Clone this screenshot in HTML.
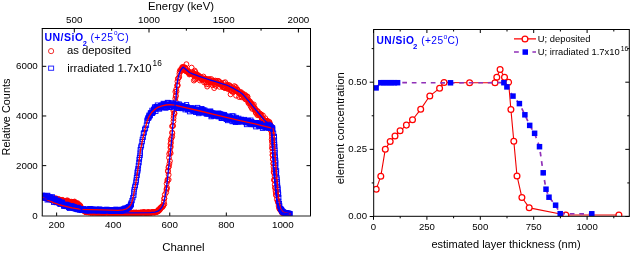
<!DOCTYPE html><html><head><meta charset="utf-8"><style>html,body{margin:0;padding:0;background:#fff;}body{width:630px;height:253px;overflow:hidden;}svg{display:block;will-change:transform;}</style></head><body><svg width="630" height="253" viewBox="0 0 630 253"><rect width="630" height="253" fill="#fff"/><path d="M74.30,28.5v4 M149.00,28.5v4 M223.70,28.5v4 M298.40,28.5v4 M111.65,28.5v2.2 M186.35,28.5v2.2 M261.05,28.5v2.2 M56.64,216.0v-3.5 M113.20,216.0v-3.5 M169.76,216.0v-3.5 M226.32,216.0v-3.5 M282.88,216.0v-3.5 M42.25,165.64h4 M310.5,165.64h-4 M42.25,115.98h4 M310.5,115.98h-4 M42.25,66.32h4 M310.5,66.32h-4" stroke="#000" stroke-width="1" fill="none"/><clipPath id="cl"><rect x="42.25" y="28.5" width="268.25" height="187.5"/></clipPath><g clip-path="url(#cl)"><g fill="none" stroke="#ff0000" stroke-width="0.95"><circle cx="42.66" cy="197.26" r="2.45"/><circle cx="42.63" cy="197.30" r="2.45"/><circle cx="43.37" cy="197.78" r="2.45"/><circle cx="43.79" cy="196.78" r="2.45"/><circle cx="44.13" cy="197.50" r="2.45"/><circle cx="44.57" cy="197.31" r="2.45"/><circle cx="44.82" cy="196.80" r="2.45"/><circle cx="45.37" cy="197.05" r="2.45"/><circle cx="45.58" cy="197.49" r="2.45"/><circle cx="45.98" cy="196.94" r="2.45"/><circle cx="46.37" cy="197.58" r="2.45"/><circle cx="47.02" cy="198.57" r="2.45"/><circle cx="46.84" cy="196.01" r="2.45"/><circle cx="47.52" cy="197.62" r="2.45"/><circle cx="48.04" cy="197.95" r="2.45"/><circle cx="48.18" cy="199.41" r="2.45"/><circle cx="49.21" cy="197.69" r="2.45"/><circle cx="49.33" cy="198.51" r="2.45"/><circle cx="49.27" cy="197.75" r="2.45"/><circle cx="50.02" cy="198.32" r="2.45"/><circle cx="50.26" cy="197.40" r="2.45"/><circle cx="50.61" cy="198.31" r="2.45"/><circle cx="51.22" cy="198.37" r="2.45"/><circle cx="51.50" cy="198.55" r="2.45"/><circle cx="52.18" cy="199.02" r="2.45"/><circle cx="52.24" cy="198.91" r="2.45"/><circle cx="52.70" cy="199.28" r="2.45"/><circle cx="52.99" cy="199.46" r="2.45"/><circle cx="53.60" cy="199.56" r="2.45"/><circle cx="53.94" cy="198.13" r="2.45"/><circle cx="54.45" cy="199.12" r="2.45"/><circle cx="54.58" cy="198.49" r="2.45"/><circle cx="55.11" cy="199.40" r="2.45"/><circle cx="55.75" cy="199.51" r="2.45"/><circle cx="56.05" cy="198.29" r="2.45"/><circle cx="56.34" cy="200.36" r="2.45"/><circle cx="56.95" cy="199.05" r="2.45"/><circle cx="57.38" cy="199.87" r="2.45"/><circle cx="57.30" cy="199.54" r="2.45"/><circle cx="57.91" cy="199.79" r="2.45"/><circle cx="58.44" cy="200.48" r="2.45"/><circle cx="58.56" cy="198.94" r="2.45"/><circle cx="59.34" cy="200.72" r="2.45"/><circle cx="59.60" cy="199.78" r="2.45"/><circle cx="60.09" cy="200.60" r="2.45"/><circle cx="60.47" cy="200.98" r="2.45"/><circle cx="60.78" cy="200.42" r="2.45"/><circle cx="60.80" cy="201.28" r="2.45"/><circle cx="61.67" cy="200.57" r="2.45"/><circle cx="62.15" cy="199.82" r="2.45"/><circle cx="62.67" cy="200.42" r="2.45"/><circle cx="63.05" cy="200.86" r="2.45"/><circle cx="63.41" cy="201.83" r="2.45"/><circle cx="63.45" cy="200.55" r="2.45"/><circle cx="64.14" cy="202.36" r="2.45"/><circle cx="64.61" cy="200.86" r="2.45"/><circle cx="65.17" cy="201.28" r="2.45"/><circle cx="65.42" cy="201.49" r="2.45"/><circle cx="65.93" cy="201.07" r="2.45"/><circle cx="66.38" cy="200.94" r="2.45"/><circle cx="66.36" cy="202.64" r="2.45"/><circle cx="67.21" cy="200.26" r="2.45"/><circle cx="67.30" cy="203.26" r="2.45"/><circle cx="68.03" cy="201.07" r="2.45"/><circle cx="68.23" cy="201.40" r="2.45"/><circle cx="68.86" cy="201.78" r="2.45"/><circle cx="69.22" cy="201.81" r="2.45"/><circle cx="69.41" cy="202.02" r="2.45"/><circle cx="69.81" cy="202.00" r="2.45"/><circle cx="70.19" cy="202.26" r="2.45"/><circle cx="71.12" cy="201.63" r="2.45"/><circle cx="71.24" cy="202.34" r="2.45"/><circle cx="71.58" cy="202.75" r="2.45"/><circle cx="72.17" cy="202.35" r="2.45"/><circle cx="72.27" cy="202.72" r="2.45"/><circle cx="72.80" cy="203.12" r="2.45"/><circle cx="73.15" cy="202.02" r="2.45"/><circle cx="74.08" cy="202.48" r="2.45"/><circle cx="74.20" cy="202.06" r="2.45"/><circle cx="74.58" cy="201.53" r="2.45"/><circle cx="74.95" cy="203.45" r="2.45"/><circle cx="75.42" cy="202.69" r="2.45"/><circle cx="75.88" cy="203.67" r="2.45"/><circle cx="76.17" cy="204.60" r="2.45"/><circle cx="76.47" cy="203.25" r="2.45"/><circle cx="76.90" cy="203.73" r="2.45"/><circle cx="77.28" cy="203.93" r="2.45"/><circle cx="77.79" cy="203.16" r="2.45"/><circle cx="77.77" cy="203.97" r="2.45"/><circle cx="78.66" cy="205.06" r="2.45"/><circle cx="78.83" cy="205.37" r="2.45"/><circle cx="79.77" cy="204.99" r="2.45"/><circle cx="79.37" cy="206.37" r="2.45"/><circle cx="80.02" cy="205.89" r="2.45"/><circle cx="80.43" cy="206.12" r="2.45"/><circle cx="81.05" cy="207.28" r="2.45"/><circle cx="80.66" cy="208.55" r="2.45"/><circle cx="81.28" cy="208.72" r="2.45"/><circle cx="82.03" cy="209.77" r="2.45"/><circle cx="82.19" cy="209.83" r="2.45"/><circle cx="83.20" cy="210.64" r="2.45"/><circle cx="83.27" cy="209.78" r="2.45"/><circle cx="83.60" cy="210.24" r="2.45"/><circle cx="84.37" cy="210.33" r="2.45"/><circle cx="84.34" cy="210.76" r="2.45"/><circle cx="84.67" cy="211.57" r="2.45"/><circle cx="85.09" cy="211.62" r="2.45"/><circle cx="85.37" cy="211.96" r="2.45"/><circle cx="85.96" cy="212.17" r="2.45"/><circle cx="86.41" cy="212.21" r="2.45"/><circle cx="86.95" cy="212.24" r="2.45"/><circle cx="87.17" cy="212.24" r="2.45"/><circle cx="87.49" cy="212.15" r="2.45"/><circle cx="88.10" cy="211.98" r="2.45"/><circle cx="88.25" cy="212.03" r="2.45"/><circle cx="88.88" cy="212.49" r="2.45"/><circle cx="88.80" cy="212.27" r="2.45"/><circle cx="89.65" cy="212.53" r="2.45"/><circle cx="90.15" cy="212.00" r="2.45"/><circle cx="90.17" cy="212.22" r="2.45"/><circle cx="90.76" cy="212.47" r="2.45"/><circle cx="90.88" cy="212.51" r="2.45"/><circle cx="91.48" cy="212.99" r="2.45"/><circle cx="92.12" cy="212.02" r="2.45"/><circle cx="92.46" cy="212.38" r="2.45"/><circle cx="92.79" cy="212.40" r="2.45"/><circle cx="93.05" cy="212.58" r="2.45"/><circle cx="93.51" cy="212.71" r="2.45"/><circle cx="94.02" cy="212.28" r="2.45"/><circle cx="94.35" cy="212.67" r="2.45"/><circle cx="94.92" cy="212.30" r="2.45"/><circle cx="94.99" cy="212.06" r="2.45"/><circle cx="95.33" cy="212.59" r="2.45"/><circle cx="95.99" cy="212.59" r="2.45"/><circle cx="96.22" cy="212.85" r="2.45"/><circle cx="96.87" cy="212.43" r="2.45"/><circle cx="97.82" cy="211.97" r="2.45"/><circle cx="97.45" cy="212.43" r="2.45"/><circle cx="97.99" cy="212.89" r="2.45"/><circle cx="98.53" cy="212.15" r="2.45"/><circle cx="98.71" cy="212.91" r="2.45"/><circle cx="99.30" cy="212.60" r="2.45"/><circle cx="99.69" cy="212.43" r="2.45"/><circle cx="99.87" cy="212.76" r="2.45"/><circle cx="100.35" cy="212.31" r="2.45"/><circle cx="101.00" cy="212.46" r="2.45"/><circle cx="101.36" cy="212.74" r="2.45"/><circle cx="101.65" cy="212.74" r="2.45"/><circle cx="102.13" cy="212.49" r="2.45"/><circle cx="102.34" cy="213.21" r="2.45"/><circle cx="102.77" cy="212.54" r="2.45"/><circle cx="103.06" cy="212.58" r="2.45"/><circle cx="103.54" cy="212.75" r="2.45"/><circle cx="104.00" cy="213.11" r="2.45"/><circle cx="104.59" cy="212.80" r="2.45"/><circle cx="105.09" cy="212.63" r="2.45"/><circle cx="105.04" cy="212.54" r="2.45"/><circle cx="105.58" cy="212.62" r="2.45"/><circle cx="105.99" cy="212.33" r="2.45"/><circle cx="106.68" cy="212.26" r="2.45"/><circle cx="106.67" cy="212.70" r="2.45"/><circle cx="107.12" cy="212.47" r="2.45"/><circle cx="107.39" cy="212.66" r="2.45"/><circle cx="107.96" cy="212.47" r="2.45"/><circle cx="108.59" cy="212.58" r="2.45"/><circle cx="108.80" cy="213.05" r="2.45"/><circle cx="108.93" cy="212.86" r="2.45"/><circle cx="109.59" cy="212.91" r="2.45"/><circle cx="110.32" cy="212.87" r="2.45"/><circle cx="110.45" cy="212.10" r="2.45"/><circle cx="110.92" cy="212.43" r="2.45"/><circle cx="111.10" cy="212.37" r="2.45"/><circle cx="111.72" cy="212.79" r="2.45"/><circle cx="111.84" cy="212.76" r="2.45"/><circle cx="112.58" cy="212.59" r="2.45"/><circle cx="112.46" cy="212.74" r="2.45"/><circle cx="113.28" cy="212.98" r="2.45"/><circle cx="113.53" cy="212.99" r="2.45"/><circle cx="113.79" cy="212.98" r="2.45"/><circle cx="114.30" cy="212.91" r="2.45"/><circle cx="115.00" cy="212.94" r="2.45"/><circle cx="115.19" cy="212.55" r="2.45"/><circle cx="115.84" cy="212.76" r="2.45"/><circle cx="115.76" cy="212.95" r="2.45"/><circle cx="116.55" cy="212.88" r="2.45"/><circle cx="116.46" cy="213.34" r="2.45"/><circle cx="117.47" cy="212.61" r="2.45"/><circle cx="117.36" cy="212.38" r="2.45"/><circle cx="118.20" cy="212.90" r="2.45"/><circle cx="118.51" cy="212.58" r="2.45"/><circle cx="119.10" cy="212.79" r="2.45"/><circle cx="119.40" cy="212.76" r="2.45"/><circle cx="119.56" cy="212.52" r="2.45"/><circle cx="120.23" cy="212.74" r="2.45"/><circle cx="120.25" cy="212.93" r="2.45"/><circle cx="120.95" cy="212.96" r="2.45"/><circle cx="121.15" cy="212.74" r="2.45"/><circle cx="121.26" cy="212.72" r="2.45"/><circle cx="122.05" cy="212.83" r="2.45"/><circle cx="122.55" cy="212.54" r="2.45"/><circle cx="122.69" cy="212.40" r="2.45"/><circle cx="123.60" cy="212.65" r="2.45"/><circle cx="123.71" cy="212.34" r="2.45"/><circle cx="124.08" cy="213.04" r="2.45"/><circle cx="124.20" cy="213.11" r="2.45"/><circle cx="124.95" cy="212.16" r="2.45"/><circle cx="125.13" cy="212.46" r="2.45"/><circle cx="125.81" cy="212.46" r="2.45"/><circle cx="125.86" cy="213.02" r="2.45"/><circle cx="126.42" cy="213.04" r="2.45"/><circle cx="126.81" cy="212.75" r="2.45"/><circle cx="127.32" cy="212.73" r="2.45"/><circle cx="127.53" cy="212.88" r="2.45"/><circle cx="127.88" cy="213.07" r="2.45"/><circle cx="128.48" cy="212.87" r="2.45"/><circle cx="128.70" cy="213.20" r="2.45"/><circle cx="129.24" cy="213.28" r="2.45"/><circle cx="129.47" cy="212.75" r="2.45"/><circle cx="130.01" cy="212.96" r="2.45"/><circle cx="130.17" cy="212.49" r="2.45"/><circle cx="130.66" cy="212.64" r="2.45"/><circle cx="131.48" cy="213.09" r="2.45"/><circle cx="131.67" cy="213.02" r="2.45"/><circle cx="132.01" cy="212.66" r="2.45"/><circle cx="132.83" cy="213.02" r="2.45"/><circle cx="132.74" cy="213.02" r="2.45"/><circle cx="133.10" cy="212.78" r="2.45"/><circle cx="133.56" cy="212.55" r="2.45"/><circle cx="134.37" cy="212.81" r="2.45"/><circle cx="134.67" cy="212.77" r="2.45"/><circle cx="134.82" cy="213.24" r="2.45"/><circle cx="135.34" cy="213.19" r="2.45"/><circle cx="135.65" cy="212.63" r="2.45"/><circle cx="135.95" cy="212.75" r="2.45"/><circle cx="136.43" cy="212.68" r="2.45"/><circle cx="136.62" cy="212.85" r="2.45"/><circle cx="136.90" cy="212.73" r="2.45"/><circle cx="137.72" cy="212.80" r="2.45"/><circle cx="138.06" cy="212.77" r="2.45"/><circle cx="138.27" cy="212.88" r="2.45"/><circle cx="138.90" cy="212.65" r="2.45"/><circle cx="139.28" cy="212.99" r="2.45"/><circle cx="139.58" cy="213.35" r="2.45"/><circle cx="140.25" cy="212.98" r="2.45"/><circle cx="140.24" cy="212.66" r="2.45"/><circle cx="140.83" cy="212.36" r="2.45"/><circle cx="141.25" cy="213.00" r="2.45"/><circle cx="141.52" cy="212.73" r="2.45"/><circle cx="141.57" cy="212.84" r="2.45"/><circle cx="142.41" cy="212.74" r="2.45"/><circle cx="143.24" cy="212.29" r="2.45"/><circle cx="142.98" cy="212.28" r="2.45"/><circle cx="143.82" cy="212.33" r="2.45"/><circle cx="144.13" cy="212.41" r="2.45"/><circle cx="144.45" cy="212.82" r="2.45"/><circle cx="144.68" cy="212.28" r="2.45"/><circle cx="144.94" cy="213.12" r="2.45"/><circle cx="145.57" cy="212.41" r="2.45"/><circle cx="146.05" cy="212.87" r="2.45"/><circle cx="146.19" cy="212.85" r="2.45"/><circle cx="146.91" cy="212.90" r="2.45"/><circle cx="147.51" cy="212.18" r="2.45"/><circle cx="147.45" cy="213.27" r="2.45"/><circle cx="148.28" cy="212.64" r="2.45"/><circle cx="148.00" cy="212.20" r="2.45"/><circle cx="148.69" cy="212.24" r="2.45"/><circle cx="149.32" cy="212.44" r="2.45"/><circle cx="149.35" cy="212.68" r="2.45"/><circle cx="150.37" cy="212.76" r="2.45"/><circle cx="150.61" cy="212.91" r="2.45"/><circle cx="151.03" cy="212.54" r="2.45"/><circle cx="151.40" cy="212.22" r="2.45"/><circle cx="151.89" cy="212.44" r="2.45"/><circle cx="151.87" cy="212.57" r="2.45"/><circle cx="152.74" cy="212.44" r="2.45"/><circle cx="152.80" cy="212.03" r="2.45"/><circle cx="153.03" cy="212.10" r="2.45"/><circle cx="154.01" cy="212.59" r="2.45"/><circle cx="154.22" cy="212.51" r="2.45"/><circle cx="154.63" cy="212.22" r="2.45"/><circle cx="155.18" cy="211.98" r="2.45"/><circle cx="155.56" cy="212.40" r="2.45"/><circle cx="155.77" cy="211.78" r="2.45"/><circle cx="156.48" cy="211.77" r="2.45"/><circle cx="156.12" cy="211.76" r="2.45"/><circle cx="157.25" cy="211.71" r="2.45"/><circle cx="157.43" cy="211.68" r="2.45"/><circle cx="157.23" cy="211.34" r="2.45"/><circle cx="157.75" cy="210.56" r="2.45"/><circle cx="158.54" cy="210.83" r="2.45"/><circle cx="158.65" cy="210.82" r="2.45"/><circle cx="159.07" cy="210.61" r="2.45"/><circle cx="159.98" cy="209.64" r="2.45"/><circle cx="158.77" cy="209.22" r="2.45"/><circle cx="160.40" cy="208.73" r="2.45"/><circle cx="160.56" cy="207.74" r="2.45"/><circle cx="160.44" cy="208.19" r="2.45"/><circle cx="161.23" cy="207.22" r="2.45"/><circle cx="162.37" cy="207.24" r="2.45"/><circle cx="161.51" cy="206.82" r="2.45"/><circle cx="162.97" cy="205.29" r="2.45"/><circle cx="163.25" cy="205.94" r="2.45"/><circle cx="164.34" cy="204.18" r="2.45"/><circle cx="163.86" cy="201.65" r="2.45"/><circle cx="164.27" cy="198.35" r="2.45"/><circle cx="164.36" cy="198.62" r="2.45"/><circle cx="164.77" cy="194.68" r="2.45"/><circle cx="166.20" cy="192.44" r="2.45"/><circle cx="166.53" cy="189.79" r="2.45"/><circle cx="166.64" cy="188.65" r="2.45"/><circle cx="167.03" cy="187.61" r="2.45"/><circle cx="166.61" cy="183.70" r="2.45"/><circle cx="167.37" cy="181.15" r="2.45"/><circle cx="168.63" cy="179.67" r="2.45"/><circle cx="167.54" cy="179.56" r="2.45"/><circle cx="168.64" cy="174.84" r="2.45"/><circle cx="167.92" cy="170.67" r="2.45"/><circle cx="167.95" cy="171.50" r="2.45"/><circle cx="168.44" cy="167.43" r="2.45"/><circle cx="168.93" cy="166.47" r="2.45"/><circle cx="169.40" cy="163.84" r="2.45"/><circle cx="169.90" cy="161.04" r="2.45"/><circle cx="169.02" cy="157.72" r="2.45"/><circle cx="169.20" cy="153.97" r="2.45"/><circle cx="170.66" cy="153.25" r="2.45"/><circle cx="170.18" cy="151.91" r="2.45"/><circle cx="170.46" cy="147.83" r="2.45"/><circle cx="170.70" cy="146.42" r="2.45"/><circle cx="170.99" cy="142.58" r="2.45"/><circle cx="170.47" cy="143.84" r="2.45"/><circle cx="170.75" cy="139.64" r="2.45"/><circle cx="171.53" cy="138.11" r="2.45"/><circle cx="172.08" cy="132.44" r="2.45"/><circle cx="172.25" cy="136.35" r="2.45"/><circle cx="172.33" cy="133.18" r="2.45"/><circle cx="172.75" cy="125.70" r="2.45"/><circle cx="172.04" cy="126.32" r="2.45"/><circle cx="173.01" cy="125.90" r="2.45"/><circle cx="173.45" cy="121.32" r="2.45"/><circle cx="173.53" cy="118.32" r="2.45"/><circle cx="173.66" cy="115.79" r="2.45"/><circle cx="174.27" cy="113.09" r="2.45"/><circle cx="174.54" cy="113.45" r="2.45"/><circle cx="173.99" cy="109.54" r="2.45"/><circle cx="173.27" cy="110.50" r="2.45"/><circle cx="175.26" cy="105.08" r="2.45"/><circle cx="175.61" cy="105.51" r="2.45"/><circle cx="175.79" cy="101.76" r="2.45"/><circle cx="175.28" cy="98.64" r="2.45"/><circle cx="175.78" cy="96.41" r="2.45"/><circle cx="175.87" cy="95.48" r="2.45"/><circle cx="175.38" cy="91.80" r="2.45"/><circle cx="176.53" cy="91.49" r="2.45"/><circle cx="176.16" cy="89.44" r="2.45"/><circle cx="177.61" cy="85.75" r="2.45"/><circle cx="177.61" cy="84.91" r="2.45"/><circle cx="177.12" cy="85.55" r="2.45"/><circle cx="177.43" cy="81.43" r="2.45"/><circle cx="177.87" cy="78.84" r="2.45"/><circle cx="178.36" cy="78.00" r="2.45"/><circle cx="179.28" cy="76.97" r="2.45"/><circle cx="179.38" cy="73.77" r="2.45"/><circle cx="179.65" cy="71.51" r="2.45"/><circle cx="180.30" cy="69.86" r="2.45"/><circle cx="181.10" cy="70.96" r="2.45"/><circle cx="181.33" cy="70.70" r="2.45"/><circle cx="181.63" cy="69.09" r="2.45"/><circle cx="182.26" cy="67.02" r="2.45"/><circle cx="182.36" cy="67.95" r="2.45"/><circle cx="182.65" cy="67.72" r="2.45"/><circle cx="183.25" cy="67.21" r="2.45"/><circle cx="183.53" cy="67.14" r="2.45"/><circle cx="184.24" cy="69.40" r="2.45"/><circle cx="184.53" cy="70.04" r="2.45"/><circle cx="184.80" cy="67.44" r="2.45"/><circle cx="185.34" cy="67.84" r="2.45"/><circle cx="185.69" cy="70.96" r="2.45"/><circle cx="185.92" cy="68.96" r="2.45"/><circle cx="186.10" cy="71.11" r="2.45"/><circle cx="186.81" cy="71.36" r="2.45"/><circle cx="187.08" cy="71.00" r="2.45"/><circle cx="187.39" cy="72.06" r="2.45"/><circle cx="188.10" cy="71.42" r="2.45"/><circle cx="188.67" cy="72.80" r="2.45"/><circle cx="188.36" cy="71.94" r="2.45"/><circle cx="189.30" cy="74.50" r="2.45"/><circle cx="189.20" cy="72.83" r="2.45"/><circle cx="189.56" cy="73.64" r="2.45"/><circle cx="189.89" cy="73.58" r="2.45"/><circle cx="190.32" cy="73.86" r="2.45"/><circle cx="191.46" cy="74.06" r="2.45"/><circle cx="191.73" cy="74.24" r="2.45"/><circle cx="191.81" cy="73.51" r="2.45"/><circle cx="192.60" cy="72.16" r="2.45"/><circle cx="193.12" cy="74.82" r="2.45"/><circle cx="193.15" cy="73.00" r="2.45"/><circle cx="193.87" cy="75.38" r="2.45"/><circle cx="193.86" cy="80.54" r="2.45"/><circle cx="194.04" cy="73.51" r="2.45"/><circle cx="194.77" cy="79.42" r="2.45"/><circle cx="195.18" cy="74.64" r="2.45"/><circle cx="195.24" cy="71.99" r="2.45"/><circle cx="196.07" cy="78.69" r="2.45"/><circle cx="196.19" cy="76.58" r="2.45"/><circle cx="197.15" cy="77.98" r="2.45"/><circle cx="197.19" cy="74.36" r="2.45"/><circle cx="197.66" cy="75.88" r="2.45"/><circle cx="197.96" cy="76.81" r="2.45"/><circle cx="198.39" cy="75.39" r="2.45"/><circle cx="198.76" cy="76.00" r="2.45"/><circle cx="199.32" cy="77.11" r="2.45"/><circle cx="199.52" cy="76.35" r="2.45"/><circle cx="199.95" cy="80.51" r="2.45"/><circle cx="200.56" cy="77.19" r="2.45"/><circle cx="200.81" cy="78.50" r="2.45"/><circle cx="200.94" cy="78.48" r="2.45"/><circle cx="201.85" cy="79.31" r="2.45"/><circle cx="201.68" cy="79.79" r="2.45"/><circle cx="202.21" cy="79.09" r="2.45"/><circle cx="202.82" cy="78.08" r="2.45"/><circle cx="203.46" cy="76.55" r="2.45"/><circle cx="203.75" cy="78.63" r="2.45"/><circle cx="204.26" cy="80.65" r="2.45"/><circle cx="204.10" cy="82.37" r="2.45"/><circle cx="204.37" cy="79.25" r="2.45"/><circle cx="205.34" cy="78.53" r="2.45"/><circle cx="205.85" cy="82.00" r="2.45"/><circle cx="206.06" cy="78.93" r="2.45"/><circle cx="206.65" cy="79.96" r="2.45"/><circle cx="206.72" cy="84.32" r="2.45"/><circle cx="207.19" cy="86.56" r="2.45"/><circle cx="207.71" cy="79.50" r="2.45"/><circle cx="208.10" cy="82.38" r="2.45"/><circle cx="208.69" cy="79.29" r="2.45"/><circle cx="209.10" cy="80.67" r="2.45"/><circle cx="208.94" cy="84.59" r="2.45"/><circle cx="209.40" cy="79.14" r="2.45"/><circle cx="210.01" cy="81.64" r="2.45"/><circle cx="210.25" cy="81.82" r="2.45"/><circle cx="211.11" cy="82.38" r="2.45"/><circle cx="211.21" cy="79.03" r="2.45"/><circle cx="211.64" cy="82.12" r="2.45"/><circle cx="212.43" cy="81.22" r="2.45"/><circle cx="212.67" cy="85.27" r="2.45"/><circle cx="213.36" cy="80.49" r="2.45"/><circle cx="213.21" cy="82.91" r="2.45"/><circle cx="213.65" cy="81.45" r="2.45"/><circle cx="214.20" cy="88.09" r="2.45"/><circle cx="214.15" cy="82.42" r="2.45"/><circle cx="214.79" cy="84.43" r="2.45"/><circle cx="215.52" cy="80.59" r="2.45"/><circle cx="215.96" cy="81.17" r="2.45"/><circle cx="215.84" cy="85.91" r="2.45"/><circle cx="216.28" cy="82.68" r="2.45"/><circle cx="217.18" cy="82.94" r="2.45"/><circle cx="217.76" cy="80.86" r="2.45"/><circle cx="217.56" cy="82.78" r="2.45"/><circle cx="218.36" cy="83.23" r="2.45"/><circle cx="218.60" cy="81.24" r="2.45"/><circle cx="219.24" cy="81.38" r="2.45"/><circle cx="219.31" cy="84.25" r="2.45"/><circle cx="219.54" cy="86.84" r="2.45"/><circle cx="220.57" cy="83.44" r="2.45"/><circle cx="220.87" cy="84.02" r="2.45"/><circle cx="220.86" cy="84.89" r="2.45"/><circle cx="221.41" cy="84.07" r="2.45"/><circle cx="221.62" cy="83.92" r="2.45"/><circle cx="221.88" cy="83.41" r="2.45"/><circle cx="222.65" cy="85.14" r="2.45"/><circle cx="222.61" cy="87.04" r="2.45"/><circle cx="223.36" cy="87.32" r="2.45"/><circle cx="223.77" cy="82.82" r="2.45"/><circle cx="224.25" cy="87.59" r="2.45"/><circle cx="224.73" cy="87.46" r="2.45"/><circle cx="224.93" cy="88.06" r="2.45"/><circle cx="225.18" cy="82.22" r="2.45"/><circle cx="225.63" cy="86.81" r="2.45"/><circle cx="226.28" cy="87.85" r="2.45"/><circle cx="226.89" cy="86.21" r="2.45"/><circle cx="227.09" cy="84.58" r="2.45"/><circle cx="227.15" cy="85.55" r="2.45"/><circle cx="227.57" cy="88.07" r="2.45"/><circle cx="227.86" cy="89.02" r="2.45"/><circle cx="228.31" cy="86.94" r="2.45"/><circle cx="228.80" cy="86.67" r="2.45"/><circle cx="229.40" cy="85.38" r="2.45"/><circle cx="229.47" cy="85.39" r="2.45"/><circle cx="230.25" cy="90.10" r="2.45"/><circle cx="230.52" cy="89.69" r="2.45"/><circle cx="230.60" cy="94.31" r="2.45"/><circle cx="231.04" cy="87.03" r="2.45"/><circle cx="231.69" cy="90.92" r="2.45"/><circle cx="232.22" cy="91.70" r="2.45"/><circle cx="232.26" cy="88.50" r="2.45"/><circle cx="233.26" cy="87.42" r="2.45"/><circle cx="233.33" cy="91.90" r="2.45"/><circle cx="233.56" cy="88.91" r="2.45"/><circle cx="233.93" cy="89.10" r="2.45"/><circle cx="234.38" cy="86.11" r="2.45"/><circle cx="234.84" cy="89.49" r="2.45"/><circle cx="235.34" cy="90.90" r="2.45"/><circle cx="235.73" cy="90.55" r="2.45"/><circle cx="235.74" cy="87.02" r="2.45"/><circle cx="236.11" cy="95.69" r="2.45"/><circle cx="236.88" cy="90.78" r="2.45"/><circle cx="237.28" cy="90.01" r="2.45"/><circle cx="237.15" cy="89.34" r="2.45"/><circle cx="237.59" cy="89.72" r="2.45"/><circle cx="238.25" cy="92.09" r="2.45"/><circle cx="238.50" cy="92.98" r="2.45"/><circle cx="239.08" cy="97.03" r="2.45"/><circle cx="239.58" cy="92.78" r="2.45"/><circle cx="239.75" cy="92.70" r="2.45"/><circle cx="240.45" cy="92.64" r="2.45"/><circle cx="240.85" cy="94.05" r="2.45"/><circle cx="240.89" cy="91.99" r="2.45"/><circle cx="241.39" cy="97.21" r="2.45"/><circle cx="241.98" cy="94.59" r="2.45"/><circle cx="241.95" cy="96.69" r="2.45"/><circle cx="242.52" cy="93.36" r="2.45"/><circle cx="242.52" cy="94.00" r="2.45"/><circle cx="242.83" cy="94.86" r="2.45"/><circle cx="243.92" cy="96.07" r="2.45"/><circle cx="243.98" cy="97.11" r="2.45"/><circle cx="244.45" cy="98.24" r="2.45"/><circle cx="244.84" cy="94.59" r="2.45"/><circle cx="245.48" cy="95.77" r="2.45"/><circle cx="245.43" cy="99.38" r="2.45"/><circle cx="246.44" cy="97.28" r="2.45"/><circle cx="246.76" cy="99.15" r="2.45"/><circle cx="247.26" cy="96.43" r="2.45"/><circle cx="247.52" cy="96.78" r="2.45"/><circle cx="248.26" cy="102.70" r="2.45"/><circle cx="248.47" cy="101.59" r="2.45"/><circle cx="248.60" cy="99.98" r="2.45"/><circle cx="249.10" cy="103.76" r="2.45"/><circle cx="249.22" cy="101.87" r="2.45"/><circle cx="250.03" cy="102.88" r="2.45"/><circle cx="250.20" cy="101.64" r="2.45"/><circle cx="250.74" cy="106.50" r="2.45"/><circle cx="250.87" cy="103.57" r="2.45"/><circle cx="251.45" cy="103.47" r="2.45"/><circle cx="251.78" cy="107.59" r="2.45"/><circle cx="252.11" cy="108.86" r="2.45"/><circle cx="252.87" cy="105.45" r="2.45"/><circle cx="252.93" cy="106.17" r="2.45"/><circle cx="253.59" cy="106.86" r="2.45"/><circle cx="253.86" cy="104.50" r="2.45"/><circle cx="254.24" cy="107.89" r="2.45"/><circle cx="254.61" cy="109.89" r="2.45"/><circle cx="255.14" cy="108.41" r="2.45"/><circle cx="255.50" cy="110.85" r="2.45"/><circle cx="255.77" cy="112.74" r="2.45"/><circle cx="256.19" cy="112.82" r="2.45"/><circle cx="256.85" cy="110.74" r="2.45"/><circle cx="257.36" cy="115.15" r="2.45"/><circle cx="257.85" cy="111.29" r="2.45"/><circle cx="257.84" cy="112.12" r="2.45"/><circle cx="258.42" cy="113.76" r="2.45"/><circle cx="258.69" cy="115.11" r="2.45"/><circle cx="259.33" cy="114.59" r="2.45"/><circle cx="259.59" cy="114.88" r="2.45"/><circle cx="260.18" cy="113.65" r="2.45"/><circle cx="260.50" cy="115.58" r="2.45"/><circle cx="260.80" cy="115.21" r="2.45"/><circle cx="261.22" cy="114.50" r="2.45"/><circle cx="261.62" cy="118.08" r="2.45"/><circle cx="262.06" cy="118.71" r="2.45"/><circle cx="262.36" cy="120.04" r="2.45"/><circle cx="262.89" cy="115.38" r="2.45"/><circle cx="263.01" cy="118.37" r="2.45"/><circle cx="263.65" cy="120.23" r="2.45"/><circle cx="263.93" cy="120.36" r="2.45"/><circle cx="264.45" cy="120.33" r="2.45"/><circle cx="264.66" cy="123.38" r="2.45"/><circle cx="265.27" cy="120.76" r="2.45"/><circle cx="265.28" cy="118.27" r="2.45"/><circle cx="265.65" cy="125.20" r="2.45"/><circle cx="266.23" cy="122.92" r="2.45"/><circle cx="266.40" cy="121.08" r="2.45"/><circle cx="267.36" cy="121.24" r="2.45"/><circle cx="267.72" cy="120.83" r="2.45"/><circle cx="268.40" cy="124.05" r="2.45"/><circle cx="268.65" cy="123.14" r="2.45"/><circle cx="268.74" cy="125.79" r="2.45"/><circle cx="269.50" cy="121.97" r="2.45"/><circle cx="269.51" cy="122.86" r="2.45"/><circle cx="270.22" cy="126.95" r="2.45"/><circle cx="270.39" cy="124.51" r="2.45"/><circle cx="271.04" cy="125.88" r="2.45"/><circle cx="270.83" cy="130.45" r="2.45"/><circle cx="271.03" cy="128.59" r="2.45"/><circle cx="271.78" cy="127.52" r="2.45"/><circle cx="271.93" cy="133.19" r="2.45"/><circle cx="271.70" cy="131.34" r="2.45"/><circle cx="271.74" cy="134.11" r="2.45"/><circle cx="271.93" cy="136.90" r="2.45"/><circle cx="272.04" cy="141.61" r="2.45"/><circle cx="271.68" cy="139.60" r="2.45"/><circle cx="272.31" cy="142.46" r="2.45"/><circle cx="272.07" cy="145.23" r="2.45"/><circle cx="272.02" cy="148.05" r="2.45"/><circle cx="272.50" cy="148.40" r="2.45"/><circle cx="272.42" cy="151.73" r="2.45"/><circle cx="272.51" cy="154.72" r="2.45"/><circle cx="272.65" cy="155.52" r="2.45"/><circle cx="272.87" cy="159.36" r="2.45"/><circle cx="272.91" cy="159.18" r="2.45"/><circle cx="273.46" cy="163.67" r="2.45"/><circle cx="273.27" cy="163.60" r="2.45"/><circle cx="273.55" cy="166.83" r="2.45"/><circle cx="273.87" cy="169.81" r="2.45"/><circle cx="273.65" cy="172.02" r="2.45"/><circle cx="274.02" cy="172.97" r="2.45"/><circle cx="274.61" cy="176.14" r="2.45"/><circle cx="274.08" cy="179.64" r="2.45"/><circle cx="274.23" cy="180.36" r="2.45"/><circle cx="274.86" cy="180.49" r="2.45"/><circle cx="274.72" cy="184.82" r="2.45"/><circle cx="274.95" cy="187.96" r="2.45"/><circle cx="275.49" cy="187.52" r="2.45"/><circle cx="275.54" cy="190.90" r="2.45"/><circle cx="275.83" cy="192.80" r="2.45"/><circle cx="275.97" cy="194.89" r="2.45"/><circle cx="276.23" cy="195.59" r="2.45"/><circle cx="276.86" cy="199.43" r="2.45"/><circle cx="277.75" cy="201.36" r="2.45"/><circle cx="278.06" cy="202.78" r="2.45"/><circle cx="278.61" cy="206.00" r="2.45"/><circle cx="279.24" cy="207.60" r="2.45"/><circle cx="279.38" cy="208.84" r="2.45"/><circle cx="279.60" cy="208.78" r="2.45"/><circle cx="280.33" cy="209.98" r="2.45"/><circle cx="280.83" cy="210.35" r="2.45"/><circle cx="281.30" cy="210.84" r="2.45"/><circle cx="281.49" cy="211.71" r="2.45"/><circle cx="281.90" cy="211.95" r="2.45"/><circle cx="282.01" cy="212.90" r="2.45"/><circle cx="283.00" cy="212.50" r="2.45"/><circle cx="283.11" cy="212.90" r="2.45"/><circle cx="283.37" cy="213.41" r="2.45"/><circle cx="284.11" cy="212.87" r="2.45"/><circle cx="283.92" cy="212.90" r="2.45"/><circle cx="284.94" cy="213.53" r="2.45"/><circle cx="285.08" cy="213.55" r="2.45"/><circle cx="285.38" cy="213.47" r="2.45"/><circle cx="286.12" cy="213.89" r="2.45"/><circle cx="285.97" cy="213.71" r="2.45"/><circle cx="287.05" cy="213.78" r="2.45"/><circle cx="287.30" cy="213.93" r="2.45"/><circle cx="287.47" cy="213.71" r="2.45"/><circle cx="288.01" cy="213.90" r="2.45"/><circle cx="288.26" cy="213.88" r="2.45"/><circle cx="288.48" cy="214.23" r="2.45"/><circle cx="288.99" cy="213.94" r="2.45"/><circle cx="186.40" cy="64.20" r="2.45"/><circle cx="191.60" cy="67.60" r="2.45"/><circle cx="194.70" cy="70.60" r="2.45"/></g><g fill="none" stroke="#0000ff" stroke-width="0.9"><rect x="40.20" y="193.64" width="4.40" height="4.40"/><rect x="40.20" y="193.02" width="4.40" height="4.40"/><rect x="41.31" y="195.92" width="4.40" height="4.40"/><rect x="41.63" y="193.40" width="4.40" height="4.40"/><rect x="41.76" y="194.29" width="4.40" height="4.40"/><rect x="42.20" y="195.29" width="4.40" height="4.40"/><rect x="42.50" y="193.81" width="4.40" height="4.40"/><rect x="43.03" y="194.91" width="4.40" height="4.40"/><rect x="43.32" y="195.15" width="4.40" height="4.40"/><rect x="43.66" y="194.78" width="4.40" height="4.40"/><rect x="44.27" y="195.78" width="4.40" height="4.40"/><rect x="44.70" y="195.29" width="4.40" height="4.40"/><rect x="45.17" y="193.81" width="4.40" height="4.40"/><rect x="45.08" y="197.63" width="4.40" height="4.40"/><rect x="45.50" y="193.23" width="4.40" height="4.40"/><rect x="46.23" y="196.46" width="4.40" height="4.40"/><rect x="46.74" y="196.89" width="4.40" height="4.40"/><rect x="47.06" y="196.01" width="4.40" height="4.40"/><rect x="47.57" y="195.71" width="4.40" height="4.40"/><rect x="47.72" y="194.74" width="4.40" height="4.40"/><rect x="48.56" y="196.50" width="4.40" height="4.40"/><rect x="48.38" y="195.49" width="4.40" height="4.40"/><rect x="49.19" y="195.88" width="4.40" height="4.40"/><rect x="49.66" y="196.41" width="4.40" height="4.40"/><rect x="50.03" y="194.69" width="4.40" height="4.40"/><rect x="49.92" y="198.16" width="4.40" height="4.40"/><rect x="50.84" y="197.31" width="4.40" height="4.40"/><rect x="51.20" y="197.39" width="4.40" height="4.40"/><rect x="51.45" y="200.03" width="4.40" height="4.40"/><rect x="51.65" y="197.29" width="4.40" height="4.40"/><rect x="52.16" y="198.51" width="4.40" height="4.40"/><rect x="52.58" y="197.78" width="4.40" height="4.40"/><rect x="52.79" y="198.87" width="4.40" height="4.40"/><rect x="52.91" y="196.68" width="4.40" height="4.40"/><rect x="53.81" y="199.83" width="4.40" height="4.40"/><rect x="54.20" y="200.34" width="4.40" height="4.40"/><rect x="54.70" y="198.11" width="4.40" height="4.40"/><rect x="54.75" y="199.01" width="4.40" height="4.40"/><rect x="55.75" y="198.35" width="4.40" height="4.40"/><rect x="55.88" y="199.84" width="4.40" height="4.40"/><rect x="56.06" y="199.37" width="4.40" height="4.40"/><rect x="56.58" y="200.76" width="4.40" height="4.40"/><rect x="56.97" y="199.25" width="4.40" height="4.40"/><rect x="57.44" y="199.29" width="4.40" height="4.40"/><rect x="57.63" y="201.54" width="4.40" height="4.40"/><rect x="58.07" y="202.02" width="4.40" height="4.40"/><rect x="58.43" y="200.93" width="4.40" height="4.40"/><rect x="59.01" y="200.74" width="4.40" height="4.40"/><rect x="59.26" y="200.72" width="4.40" height="4.40"/><rect x="59.64" y="200.67" width="4.40" height="4.40"/><rect x="60.15" y="200.00" width="4.40" height="4.40"/><rect x="60.78" y="202.09" width="4.40" height="4.40"/><rect x="61.49" y="202.51" width="4.40" height="4.40"/><rect x="61.31" y="202.38" width="4.40" height="4.40"/><rect x="61.59" y="204.01" width="4.40" height="4.40"/><rect x="62.01" y="203.35" width="4.40" height="4.40"/><rect x="62.21" y="202.96" width="4.40" height="4.40"/><rect x="62.97" y="203.64" width="4.40" height="4.40"/><rect x="63.74" y="202.14" width="4.40" height="4.40"/><rect x="63.81" y="203.88" width="4.40" height="4.40"/><rect x="64.19" y="202.67" width="4.40" height="4.40"/><rect x="64.74" y="203.32" width="4.40" height="4.40"/><rect x="64.87" y="204.30" width="4.40" height="4.40"/><rect x="65.29" y="203.26" width="4.40" height="4.40"/><rect x="65.68" y="202.70" width="4.40" height="4.40"/><rect x="66.34" y="203.92" width="4.40" height="4.40"/><rect x="66.44" y="205.25" width="4.40" height="4.40"/><rect x="66.91" y="204.73" width="4.40" height="4.40"/><rect x="67.39" y="206.14" width="4.40" height="4.40"/><rect x="67.61" y="204.95" width="4.40" height="4.40"/><rect x="68.24" y="204.00" width="4.40" height="4.40"/><rect x="68.67" y="204.49" width="4.40" height="4.40"/><rect x="69.13" y="203.67" width="4.40" height="4.40"/><rect x="69.74" y="204.34" width="4.40" height="4.40"/><rect x="70.02" y="204.97" width="4.40" height="4.40"/><rect x="70.29" y="204.19" width="4.40" height="4.40"/><rect x="70.52" y="204.70" width="4.40" height="4.40"/><rect x="70.96" y="205.52" width="4.40" height="4.40"/><rect x="71.59" y="205.81" width="4.40" height="4.40"/><rect x="71.83" y="206.20" width="4.40" height="4.40"/><rect x="72.09" y="204.76" width="4.40" height="4.40"/><rect x="72.24" y="205.75" width="4.40" height="4.40"/><rect x="73.02" y="206.57" width="4.40" height="4.40"/><rect x="73.67" y="205.91" width="4.40" height="4.40"/><rect x="73.94" y="206.70" width="4.40" height="4.40"/><rect x="74.36" y="205.56" width="4.40" height="4.40"/><rect x="74.53" y="206.65" width="4.40" height="4.40"/><rect x="75.22" y="207.26" width="4.40" height="4.40"/><rect x="75.55" y="205.18" width="4.40" height="4.40"/><rect x="76.16" y="205.79" width="4.40" height="4.40"/><rect x="76.12" y="207.37" width="4.40" height="4.40"/><rect x="76.77" y="206.28" width="4.40" height="4.40"/><rect x="77.47" y="206.83" width="4.40" height="4.40"/><rect x="77.52" y="207.61" width="4.40" height="4.40"/><rect x="77.58" y="207.51" width="4.40" height="4.40"/><rect x="78.56" y="207.46" width="4.40" height="4.40"/><rect x="78.66" y="207.31" width="4.40" height="4.40"/><rect x="79.60" y="207.71" width="4.40" height="4.40"/><rect x="79.38" y="207.53" width="4.40" height="4.40"/><rect x="79.64" y="208.19" width="4.40" height="4.40"/><rect x="80.30" y="207.71" width="4.40" height="4.40"/><rect x="80.65" y="207.95" width="4.40" height="4.40"/><rect x="81.28" y="208.16" width="4.40" height="4.40"/><rect x="81.23" y="206.58" width="4.40" height="4.40"/><rect x="82.29" y="207.33" width="4.40" height="4.40"/><rect x="82.45" y="207.57" width="4.40" height="4.40"/><rect x="82.99" y="207.39" width="4.40" height="4.40"/><rect x="83.30" y="207.72" width="4.40" height="4.40"/><rect x="83.88" y="207.03" width="4.40" height="4.40"/><rect x="83.79" y="208.26" width="4.40" height="4.40"/><rect x="84.60" y="208.76" width="4.40" height="4.40"/><rect x="84.48" y="207.32" width="4.40" height="4.40"/><rect x="85.37" y="207.92" width="4.40" height="4.40"/><rect x="85.31" y="207.29" width="4.40" height="4.40"/><rect x="85.95" y="208.19" width="4.40" height="4.40"/><rect x="87.04" y="207.38" width="4.40" height="4.40"/><rect x="87.07" y="208.73" width="4.40" height="4.40"/><rect x="87.41" y="207.41" width="4.40" height="4.40"/><rect x="87.71" y="206.48" width="4.40" height="4.40"/><rect x="87.83" y="207.27" width="4.40" height="4.40"/><rect x="88.60" y="206.86" width="4.40" height="4.40"/><rect x="88.93" y="207.73" width="4.40" height="4.40"/><rect x="89.13" y="208.13" width="4.40" height="4.40"/><rect x="89.35" y="207.08" width="4.40" height="4.40"/><rect x="90.26" y="207.55" width="4.40" height="4.40"/><rect x="90.64" y="207.66" width="4.40" height="4.40"/><rect x="90.82" y="207.14" width="4.40" height="4.40"/><rect x="91.07" y="207.37" width="4.40" height="4.40"/><rect x="91.89" y="208.72" width="4.40" height="4.40"/><rect x="91.97" y="207.39" width="4.40" height="4.40"/><rect x="92.24" y="207.76" width="4.40" height="4.40"/><rect x="92.68" y="208.03" width="4.40" height="4.40"/><rect x="93.13" y="207.63" width="4.40" height="4.40"/><rect x="93.48" y="207.58" width="4.40" height="4.40"/><rect x="93.95" y="207.04" width="4.40" height="4.40"/><rect x="94.49" y="207.51" width="4.40" height="4.40"/><rect x="95.26" y="207.90" width="4.40" height="4.40"/><rect x="95.31" y="208.28" width="4.40" height="4.40"/><rect x="95.62" y="208.25" width="4.40" height="4.40"/><rect x="96.28" y="208.63" width="4.40" height="4.40"/><rect x="96.72" y="207.23" width="4.40" height="4.40"/><rect x="96.44" y="208.33" width="4.40" height="4.40"/><rect x="97.28" y="207.56" width="4.40" height="4.40"/><rect x="97.57" y="206.98" width="4.40" height="4.40"/><rect x="98.29" y="207.48" width="4.40" height="4.40"/><rect x="99.11" y="208.12" width="4.40" height="4.40"/><rect x="99.22" y="207.78" width="4.40" height="4.40"/><rect x="99.45" y="208.03" width="4.40" height="4.40"/><rect x="99.42" y="207.42" width="4.40" height="4.40"/><rect x="100.35" y="207.62" width="4.40" height="4.40"/><rect x="100.72" y="208.79" width="4.40" height="4.40"/><rect x="100.83" y="208.26" width="4.40" height="4.40"/><rect x="101.67" y="208.77" width="4.40" height="4.40"/><rect x="101.79" y="207.75" width="4.40" height="4.40"/><rect x="102.49" y="207.52" width="4.40" height="4.40"/><rect x="102.58" y="208.22" width="4.40" height="4.40"/><rect x="103.09" y="208.22" width="4.40" height="4.40"/><rect x="103.15" y="207.82" width="4.40" height="4.40"/><rect x="103.45" y="207.39" width="4.40" height="4.40"/><rect x="104.64" y="208.26" width="4.40" height="4.40"/><rect x="104.63" y="207.19" width="4.40" height="4.40"/><rect x="104.80" y="208.24" width="4.40" height="4.40"/><rect x="105.18" y="208.14" width="4.40" height="4.40"/><rect x="105.68" y="208.63" width="4.40" height="4.40"/><rect x="106.34" y="208.09" width="4.40" height="4.40"/><rect x="106.24" y="207.83" width="4.40" height="4.40"/><rect x="107.15" y="207.78" width="4.40" height="4.40"/><rect x="107.45" y="208.01" width="4.40" height="4.40"/><rect x="107.83" y="207.51" width="4.40" height="4.40"/><rect x="108.21" y="208.41" width="4.40" height="4.40"/><rect x="108.56" y="209.00" width="4.40" height="4.40"/><rect x="108.68" y="207.54" width="4.40" height="4.40"/><rect x="109.39" y="208.63" width="4.40" height="4.40"/><rect x="109.89" y="208.56" width="4.40" height="4.40"/><rect x="110.45" y="208.87" width="4.40" height="4.40"/><rect x="110.65" y="207.88" width="4.40" height="4.40"/><rect x="110.75" y="208.61" width="4.40" height="4.40"/><rect x="111.64" y="208.79" width="4.40" height="4.40"/><rect x="111.76" y="208.56" width="4.40" height="4.40"/><rect x="111.98" y="208.23" width="4.40" height="4.40"/><rect x="112.48" y="208.11" width="4.40" height="4.40"/><rect x="112.90" y="208.13" width="4.40" height="4.40"/><rect x="113.64" y="208.23" width="4.40" height="4.40"/><rect x="113.99" y="207.44" width="4.40" height="4.40"/><rect x="113.77" y="207.11" width="4.40" height="4.40"/><rect x="114.60" y="208.03" width="4.40" height="4.40"/><rect x="114.67" y="208.31" width="4.40" height="4.40"/><rect x="115.43" y="208.07" width="4.40" height="4.40"/><rect x="115.78" y="208.72" width="4.40" height="4.40"/><rect x="116.02" y="208.33" width="4.40" height="4.40"/><rect x="116.54" y="207.94" width="4.40" height="4.40"/><rect x="116.85" y="208.35" width="4.40" height="4.40"/><rect x="117.58" y="207.55" width="4.40" height="4.40"/><rect x="117.96" y="208.83" width="4.40" height="4.40"/><rect x="118.23" y="208.05" width="4.40" height="4.40"/><rect x="118.82" y="208.42" width="4.40" height="4.40"/><rect x="119.20" y="208.71" width="4.40" height="4.40"/><rect x="119.44" y="207.32" width="4.40" height="4.40"/><rect x="119.72" y="207.26" width="4.40" height="4.40"/><rect x="120.54" y="208.38" width="4.40" height="4.40"/><rect x="121.16" y="207.07" width="4.40" height="4.40"/><rect x="120.98" y="207.71" width="4.40" height="4.40"/><rect x="121.54" y="207.68" width="4.40" height="4.40"/><rect x="121.54" y="206.95" width="4.40" height="4.40"/><rect x="122.36" y="207.27" width="4.40" height="4.40"/><rect x="122.79" y="205.90" width="4.40" height="4.40"/><rect x="122.96" y="207.26" width="4.40" height="4.40"/><rect x="123.37" y="206.96" width="4.40" height="4.40"/><rect x="123.73" y="206.47" width="4.40" height="4.40"/><rect x="123.93" y="207.10" width="4.40" height="4.40"/><rect x="124.67" y="206.40" width="4.40" height="4.40"/><rect x="124.96" y="205.75" width="4.40" height="4.40"/><rect x="125.30" y="205.20" width="4.40" height="4.40"/><rect x="125.95" y="205.55" width="4.40" height="4.40"/><rect x="126.91" y="205.10" width="4.40" height="4.40"/><rect x="126.69" y="204.77" width="4.40" height="4.40"/><rect x="126.94" y="204.45" width="4.40" height="4.40"/><rect x="127.28" y="204.41" width="4.40" height="4.40"/><rect x="127.97" y="204.02" width="4.40" height="4.40"/><rect x="128.31" y="203.04" width="4.40" height="4.40"/><rect x="129.05" y="202.47" width="4.40" height="4.40"/><rect x="128.71" y="201.87" width="4.40" height="4.40"/><rect x="129.04" y="200.78" width="4.40" height="4.40"/><rect x="129.85" y="198.38" width="4.40" height="4.40"/><rect x="130.66" y="195.40" width="4.40" height="4.40"/><rect x="131.59" y="193.06" width="4.40" height="4.40"/><rect x="131.69" y="189.83" width="4.40" height="4.40"/><rect x="132.00" y="187.42" width="4.40" height="4.40"/><rect x="132.57" y="184.77" width="4.40" height="4.40"/><rect x="133.16" y="183.11" width="4.40" height="4.40"/><rect x="133.77" y="180.06" width="4.40" height="4.40"/><rect x="134.06" y="177.93" width="4.40" height="4.40"/><rect x="134.30" y="175.49" width="4.40" height="4.40"/><rect x="134.93" y="173.11" width="4.40" height="4.40"/><rect x="134.96" y="170.09" width="4.40" height="4.40"/><rect x="135.59" y="168.61" width="4.40" height="4.40"/><rect x="135.80" y="166.55" width="4.40" height="4.40"/><rect x="136.21" y="163.28" width="4.40" height="4.40"/><rect x="136.80" y="160.45" width="4.40" height="4.40"/><rect x="136.95" y="157.33" width="4.40" height="4.40"/><rect x="137.32" y="155.40" width="4.40" height="4.40"/><rect x="137.84" y="153.16" width="4.40" height="4.40"/><rect x="138.02" y="150.82" width="4.40" height="4.40"/><rect x="138.07" y="147.58" width="4.40" height="4.40"/><rect x="138.69" y="144.82" width="4.40" height="4.40"/><rect x="139.23" y="143.25" width="4.40" height="4.40"/><rect x="139.93" y="139.46" width="4.40" height="4.40"/><rect x="140.15" y="137.25" width="4.40" height="4.40"/><rect x="140.97" y="135.14" width="4.40" height="4.40"/><rect x="141.23" y="131.18" width="4.40" height="4.40"/><rect x="141.95" y="130.43" width="4.40" height="4.40"/><rect x="142.49" y="127.17" width="4.40" height="4.40"/><rect x="143.24" y="125.99" width="4.40" height="4.40"/><rect x="144.23" y="122.99" width="4.40" height="4.40"/><rect x="144.89" y="118.75" width="4.40" height="4.40"/><rect x="145.08" y="117.79" width="4.40" height="4.40"/><rect x="145.77" y="115.99" width="4.40" height="4.40"/><rect x="145.89" y="115.93" width="4.40" height="4.40"/><rect x="146.76" y="114.06" width="4.40" height="4.40"/><rect x="146.77" y="115.43" width="4.40" height="4.40"/><rect x="146.88" y="113.03" width="4.40" height="4.40"/><rect x="147.63" y="113.67" width="4.40" height="4.40"/><rect x="148.19" y="110.92" width="4.40" height="4.40"/><rect x="148.15" y="113.08" width="4.40" height="4.40"/><rect x="148.64" y="110.79" width="4.40" height="4.40"/><rect x="149.09" y="111.10" width="4.40" height="4.40"/><rect x="149.79" y="108.21" width="4.40" height="4.40"/><rect x="150.16" y="110.31" width="4.40" height="4.40"/><rect x="150.28" y="111.11" width="4.40" height="4.40"/><rect x="150.88" y="109.54" width="4.40" height="4.40"/><rect x="151.12" y="109.69" width="4.40" height="4.40"/><rect x="151.57" y="107.50" width="4.40" height="4.40"/><rect x="151.86" y="106.86" width="4.40" height="4.40"/><rect x="152.40" y="104.87" width="4.40" height="4.40"/><rect x="152.69" y="105.77" width="4.40" height="4.40"/><rect x="153.24" y="106.78" width="4.40" height="4.40"/><rect x="153.59" y="109.06" width="4.40" height="4.40"/><rect x="153.95" y="104.51" width="4.40" height="4.40"/><rect x="154.38" y="105.32" width="4.40" height="4.40"/><rect x="154.53" y="104.96" width="4.40" height="4.40"/><rect x="154.92" y="104.93" width="4.40" height="4.40"/><rect x="155.29" y="102.96" width="4.40" height="4.40"/><rect x="156.04" y="105.08" width="4.40" height="4.40"/><rect x="156.13" y="104.57" width="4.40" height="4.40"/><rect x="156.71" y="105.56" width="4.40" height="4.40"/><rect x="157.12" y="106.75" width="4.40" height="4.40"/><rect x="157.67" y="104.47" width="4.40" height="4.40"/><rect x="157.70" y="106.36" width="4.40" height="4.40"/><rect x="157.86" y="104.41" width="4.40" height="4.40"/><rect x="158.42" y="103.57" width="4.40" height="4.40"/><rect x="158.90" y="103.62" width="4.40" height="4.40"/><rect x="159.38" y="103.53" width="4.40" height="4.40"/><rect x="159.85" y="104.25" width="4.40" height="4.40"/><rect x="159.94" y="102.78" width="4.40" height="4.40"/><rect x="160.88" y="105.07" width="4.40" height="4.40"/><rect x="161.11" y="102.76" width="4.40" height="4.40"/><rect x="161.09" y="101.26" width="4.40" height="4.40"/><rect x="162.09" y="102.84" width="4.40" height="4.40"/><rect x="162.03" y="101.74" width="4.40" height="4.40"/><rect x="162.22" y="105.17" width="4.40" height="4.40"/><rect x="163.10" y="103.81" width="4.40" height="4.40"/><rect x="163.44" y="102.61" width="4.40" height="4.40"/><rect x="163.57" y="105.85" width="4.40" height="4.40"/><rect x="164.15" y="102.34" width="4.40" height="4.40"/><rect x="164.33" y="101.81" width="4.40" height="4.40"/><rect x="165.04" y="104.79" width="4.40" height="4.40"/><rect x="165.26" y="100.31" width="4.40" height="4.40"/><rect x="165.88" y="103.14" width="4.40" height="4.40"/><rect x="166.18" y="100.65" width="4.40" height="4.40"/><rect x="166.68" y="102.87" width="4.40" height="4.40"/><rect x="166.64" y="103.00" width="4.40" height="4.40"/><rect x="167.44" y="104.89" width="4.40" height="4.40"/><rect x="168.37" y="104.80" width="4.40" height="4.40"/><rect x="167.95" y="102.23" width="4.40" height="4.40"/><rect x="168.56" y="103.64" width="4.40" height="4.40"/><rect x="168.79" y="101.94" width="4.40" height="4.40"/><rect x="169.31" y="104.82" width="4.40" height="4.40"/><rect x="169.71" y="100.78" width="4.40" height="4.40"/><rect x="170.23" y="101.15" width="4.40" height="4.40"/><rect x="170.39" y="102.17" width="4.40" height="4.40"/><rect x="170.87" y="103.57" width="4.40" height="4.40"/><rect x="171.65" y="103.78" width="4.40" height="4.40"/><rect x="171.67" y="102.39" width="4.40" height="4.40"/><rect x="172.38" y="103.18" width="4.40" height="4.40"/><rect x="172.63" y="102.96" width="4.40" height="4.40"/><rect x="173.06" y="102.97" width="4.40" height="4.40"/><rect x="173.26" y="103.88" width="4.40" height="4.40"/><rect x="173.81" y="102.46" width="4.40" height="4.40"/><rect x="174.23" y="102.32" width="4.40" height="4.40"/><rect x="174.60" y="104.01" width="4.40" height="4.40"/><rect x="174.84" y="102.60" width="4.40" height="4.40"/><rect x="175.58" y="105.81" width="4.40" height="4.40"/><rect x="175.63" y="102.12" width="4.40" height="4.40"/><rect x="176.50" y="106.17" width="4.40" height="4.40"/><rect x="176.83" y="103.97" width="4.40" height="4.40"/><rect x="177.00" y="101.94" width="4.40" height="4.40"/><rect x="177.03" y="104.98" width="4.40" height="4.40"/><rect x="177.96" y="103.07" width="4.40" height="4.40"/><rect x="178.08" y="105.69" width="4.40" height="4.40"/><rect x="178.92" y="104.68" width="4.40" height="4.40"/><rect x="178.73" y="103.90" width="4.40" height="4.40"/><rect x="179.32" y="104.42" width="4.40" height="4.40"/><rect x="179.83" y="106.31" width="4.40" height="4.40"/><rect x="180.68" y="103.64" width="4.40" height="4.40"/><rect x="180.69" y="104.13" width="4.40" height="4.40"/><rect x="181.16" y="105.77" width="4.40" height="4.40"/><rect x="181.52" y="105.20" width="4.40" height="4.40"/><rect x="181.52" y="104.98" width="4.40" height="4.40"/><rect x="182.16" y="104.87" width="4.40" height="4.40"/><rect x="182.63" y="105.02" width="4.40" height="4.40"/><rect x="183.26" y="104.53" width="4.40" height="4.40"/><rect x="182.96" y="107.49" width="4.40" height="4.40"/><rect x="183.66" y="105.55" width="4.40" height="4.40"/><rect x="184.28" y="102.62" width="4.40" height="4.40"/><rect x="184.52" y="104.91" width="4.40" height="4.40"/><rect x="185.22" y="104.96" width="4.40" height="4.40"/><rect x="185.46" y="107.52" width="4.40" height="4.40"/><rect x="185.78" y="106.90" width="4.40" height="4.40"/><rect x="186.05" y="106.28" width="4.40" height="4.40"/><rect x="186.46" y="106.23" width="4.40" height="4.40"/><rect x="187.17" y="106.77" width="4.40" height="4.40"/><rect x="187.64" y="106.78" width="4.40" height="4.40"/><rect x="187.38" y="109.46" width="4.40" height="4.40"/><rect x="188.09" y="106.58" width="4.40" height="4.40"/><rect x="188.33" y="106.06" width="4.40" height="4.40"/><rect x="188.95" y="106.81" width="4.40" height="4.40"/><rect x="189.35" y="106.02" width="4.40" height="4.40"/><rect x="189.33" y="106.16" width="4.40" height="4.40"/><rect x="190.14" y="108.43" width="4.40" height="4.40"/><rect x="190.66" y="105.89" width="4.40" height="4.40"/><rect x="190.57" y="106.35" width="4.40" height="4.40"/><rect x="191.06" y="108.46" width="4.40" height="4.40"/><rect x="191.82" y="107.12" width="4.40" height="4.40"/><rect x="192.44" y="109.24" width="4.40" height="4.40"/><rect x="192.45" y="107.80" width="4.40" height="4.40"/><rect x="193.22" y="107.14" width="4.40" height="4.40"/><rect x="193.51" y="110.08" width="4.40" height="4.40"/><rect x="194.01" y="107.03" width="4.40" height="4.40"/><rect x="194.12" y="107.47" width="4.40" height="4.40"/><rect x="194.72" y="107.69" width="4.40" height="4.40"/><rect x="195.20" y="108.50" width="4.40" height="4.40"/><rect x="195.50" y="109.91" width="4.40" height="4.40"/><rect x="195.46" y="105.37" width="4.40" height="4.40"/><rect x="196.19" y="108.63" width="4.40" height="4.40"/><rect x="196.59" y="111.30" width="4.40" height="4.40"/><rect x="197.19" y="108.42" width="4.40" height="4.40"/><rect x="197.35" y="110.08" width="4.40" height="4.40"/><rect x="197.57" y="109.41" width="4.40" height="4.40"/><rect x="198.45" y="107.68" width="4.40" height="4.40"/><rect x="198.78" y="107.18" width="4.40" height="4.40"/><rect x="199.15" y="109.96" width="4.40" height="4.40"/><rect x="199.51" y="110.36" width="4.40" height="4.40"/><rect x="199.60" y="106.53" width="4.40" height="4.40"/><rect x="200.38" y="108.60" width="4.40" height="4.40"/><rect x="200.46" y="108.02" width="4.40" height="4.40"/><rect x="201.26" y="109.10" width="4.40" height="4.40"/><rect x="201.13" y="107.82" width="4.40" height="4.40"/><rect x="201.37" y="110.56" width="4.40" height="4.40"/><rect x="202.11" y="110.28" width="4.40" height="4.40"/><rect x="202.52" y="107.93" width="4.40" height="4.40"/><rect x="203.03" y="108.77" width="4.40" height="4.40"/><rect x="203.70" y="110.61" width="4.40" height="4.40"/><rect x="203.82" y="110.22" width="4.40" height="4.40"/><rect x="204.20" y="109.60" width="4.40" height="4.40"/><rect x="204.21" y="111.77" width="4.40" height="4.40"/><rect x="204.89" y="111.37" width="4.40" height="4.40"/><rect x="205.47" y="110.72" width="4.40" height="4.40"/><rect x="205.85" y="111.80" width="4.40" height="4.40"/><rect x="206.26" y="110.32" width="4.40" height="4.40"/><rect x="206.56" y="110.93" width="4.40" height="4.40"/><rect x="207.17" y="111.27" width="4.40" height="4.40"/><rect x="207.43" y="111.28" width="4.40" height="4.40"/><rect x="207.77" y="109.56" width="4.40" height="4.40"/><rect x="208.34" y="108.93" width="4.40" height="4.40"/><rect x="208.86" y="110.20" width="4.40" height="4.40"/><rect x="208.92" y="114.41" width="4.40" height="4.40"/><rect x="209.48" y="113.27" width="4.40" height="4.40"/><rect x="209.63" y="110.97" width="4.40" height="4.40"/><rect x="210.48" y="112.49" width="4.40" height="4.40"/><rect x="210.30" y="112.32" width="4.40" height="4.40"/><rect x="210.95" y="110.65" width="4.40" height="4.40"/><rect x="211.46" y="113.78" width="4.40" height="4.40"/><rect x="212.04" y="112.57" width="4.40" height="4.40"/><rect x="212.18" y="112.00" width="4.40" height="4.40"/><rect x="212.24" y="112.12" width="4.40" height="4.40"/><rect x="213.08" y="113.04" width="4.40" height="4.40"/><rect x="213.16" y="113.78" width="4.40" height="4.40"/><rect x="213.99" y="111.61" width="4.40" height="4.40"/><rect x="214.48" y="113.14" width="4.40" height="4.40"/><rect x="214.64" y="111.74" width="4.40" height="4.40"/><rect x="215.06" y="112.08" width="4.40" height="4.40"/><rect x="215.51" y="112.41" width="4.40" height="4.40"/><rect x="215.94" y="114.48" width="4.40" height="4.40"/><rect x="216.39" y="110.94" width="4.40" height="4.40"/><rect x="216.39" y="113.88" width="4.40" height="4.40"/><rect x="217.00" y="112.29" width="4.40" height="4.40"/><rect x="217.31" y="114.23" width="4.40" height="4.40"/><rect x="217.86" y="111.56" width="4.40" height="4.40"/><rect x="218.69" y="113.91" width="4.40" height="4.40"/><rect x="219.10" y="112.17" width="4.40" height="4.40"/><rect x="219.06" y="116.08" width="4.40" height="4.40"/><rect x="219.42" y="116.07" width="4.40" height="4.40"/><rect x="219.65" y="115.31" width="4.40" height="4.40"/><rect x="220.00" y="114.28" width="4.40" height="4.40"/><rect x="220.55" y="112.30" width="4.40" height="4.40"/><rect x="221.11" y="113.54" width="4.40" height="4.40"/><rect x="221.37" y="116.06" width="4.40" height="4.40"/><rect x="221.84" y="114.63" width="4.40" height="4.40"/><rect x="222.25" y="112.56" width="4.40" height="4.40"/><rect x="222.59" y="114.77" width="4.40" height="4.40"/><rect x="222.60" y="113.47" width="4.40" height="4.40"/><rect x="223.46" y="114.63" width="4.40" height="4.40"/><rect x="224.03" y="116.71" width="4.40" height="4.40"/><rect x="224.27" y="116.95" width="4.40" height="4.40"/><rect x="224.56" y="116.67" width="4.40" height="4.40"/><rect x="225.19" y="116.11" width="4.40" height="4.40"/><rect x="225.45" y="118.29" width="4.40" height="4.40"/><rect x="226.08" y="113.94" width="4.40" height="4.40"/><rect x="226.19" y="114.63" width="4.40" height="4.40"/><rect x="226.42" y="115.35" width="4.40" height="4.40"/><rect x="227.12" y="117.47" width="4.40" height="4.40"/><rect x="227.41" y="115.14" width="4.40" height="4.40"/><rect x="227.92" y="115.46" width="4.40" height="4.40"/><rect x="228.05" y="115.63" width="4.40" height="4.40"/><rect x="228.51" y="115.39" width="4.40" height="4.40"/><rect x="228.82" y="116.65" width="4.40" height="4.40"/><rect x="229.49" y="116.27" width="4.40" height="4.40"/><rect x="229.97" y="119.33" width="4.40" height="4.40"/><rect x="230.10" y="113.73" width="4.40" height="4.40"/><rect x="230.66" y="116.18" width="4.40" height="4.40"/><rect x="231.15" y="118.71" width="4.40" height="4.40"/><rect x="231.46" y="114.02" width="4.40" height="4.40"/><rect x="231.88" y="117.09" width="4.40" height="4.40"/><rect x="231.98" y="118.73" width="4.40" height="4.40"/><rect x="232.27" y="118.51" width="4.40" height="4.40"/><rect x="233.08" y="117.31" width="4.40" height="4.40"/><rect x="233.26" y="120.16" width="4.40" height="4.40"/><rect x="233.94" y="115.35" width="4.40" height="4.40"/><rect x="234.51" y="116.72" width="4.40" height="4.40"/><rect x="234.42" y="116.76" width="4.40" height="4.40"/><rect x="235.02" y="119.26" width="4.40" height="4.40"/><rect x="235.11" y="119.06" width="4.40" height="4.40"/><rect x="235.68" y="119.95" width="4.40" height="4.40"/><rect x="236.00" y="119.02" width="4.40" height="4.40"/><rect x="236.55" y="116.21" width="4.40" height="4.40"/><rect x="237.32" y="118.42" width="4.40" height="4.40"/><rect x="237.54" y="118.73" width="4.40" height="4.40"/><rect x="238.42" y="119.21" width="4.40" height="4.40"/><rect x="238.45" y="117.48" width="4.40" height="4.40"/><rect x="238.64" y="118.39" width="4.40" height="4.40"/><rect x="239.22" y="117.98" width="4.40" height="4.40"/><rect x="239.11" y="117.20" width="4.40" height="4.40"/><rect x="239.54" y="118.57" width="4.40" height="4.40"/><rect x="240.35" y="119.77" width="4.40" height="4.40"/><rect x="240.72" y="118.07" width="4.40" height="4.40"/><rect x="240.95" y="118.26" width="4.40" height="4.40"/><rect x="241.73" y="119.17" width="4.40" height="4.40"/><rect x="241.56" y="119.24" width="4.40" height="4.40"/><rect x="242.38" y="118.21" width="4.40" height="4.40"/><rect x="242.44" y="117.37" width="4.40" height="4.40"/><rect x="242.44" y="119.03" width="4.40" height="4.40"/><rect x="243.53" y="119.01" width="4.40" height="4.40"/><rect x="243.54" y="119.94" width="4.40" height="4.40"/><rect x="244.22" y="120.59" width="4.40" height="4.40"/><rect x="244.36" y="122.30" width="4.40" height="4.40"/><rect x="244.91" y="119.44" width="4.40" height="4.40"/><rect x="245.32" y="119.83" width="4.40" height="4.40"/><rect x="245.56" y="119.95" width="4.40" height="4.40"/><rect x="245.98" y="118.22" width="4.40" height="4.40"/><rect x="246.27" y="118.56" width="4.40" height="4.40"/><rect x="246.98" y="119.67" width="4.40" height="4.40"/><rect x="247.06" y="121.45" width="4.40" height="4.40"/><rect x="247.83" y="120.87" width="4.40" height="4.40"/><rect x="247.73" y="120.52" width="4.40" height="4.40"/><rect x="248.61" y="118.04" width="4.40" height="4.40"/><rect x="248.90" y="121.85" width="4.40" height="4.40"/><rect x="249.53" y="119.54" width="4.40" height="4.40"/><rect x="249.63" y="122.37" width="4.40" height="4.40"/><rect x="249.64" y="120.71" width="4.40" height="4.40"/><rect x="250.10" y="121.97" width="4.40" height="4.40"/><rect x="250.97" y="121.97" width="4.40" height="4.40"/><rect x="251.53" y="121.35" width="4.40" height="4.40"/><rect x="251.73" y="120.93" width="4.40" height="4.40"/><rect x="252.06" y="122.36" width="4.40" height="4.40"/><rect x="252.65" y="120.98" width="4.40" height="4.40"/><rect x="252.76" y="122.08" width="4.40" height="4.40"/><rect x="253.22" y="121.47" width="4.40" height="4.40"/><rect x="253.61" y="124.52" width="4.40" height="4.40"/><rect x="253.77" y="121.58" width="4.40" height="4.40"/><rect x="253.99" y="120.50" width="4.40" height="4.40"/><rect x="254.77" y="122.35" width="4.40" height="4.40"/><rect x="254.87" y="120.93" width="4.40" height="4.40"/><rect x="255.45" y="121.88" width="4.40" height="4.40"/><rect x="256.01" y="120.76" width="4.40" height="4.40"/><rect x="256.34" y="122.64" width="4.40" height="4.40"/><rect x="256.61" y="123.49" width="4.40" height="4.40"/><rect x="256.93" y="124.30" width="4.40" height="4.40"/><rect x="257.66" y="123.38" width="4.40" height="4.40"/><rect x="258.00" y="122.55" width="4.40" height="4.40"/><rect x="258.02" y="121.43" width="4.40" height="4.40"/><rect x="258.57" y="122.82" width="4.40" height="4.40"/><rect x="259.12" y="123.87" width="4.40" height="4.40"/><rect x="259.57" y="124.00" width="4.40" height="4.40"/><rect x="259.92" y="123.61" width="4.40" height="4.40"/><rect x="260.20" y="123.02" width="4.40" height="4.40"/><rect x="260.34" y="125.99" width="4.40" height="4.40"/><rect x="261.28" y="123.44" width="4.40" height="4.40"/><rect x="261.76" y="124.26" width="4.40" height="4.40"/><rect x="261.62" y="124.51" width="4.40" height="4.40"/><rect x="261.99" y="123.57" width="4.40" height="4.40"/><rect x="262.95" y="125.23" width="4.40" height="4.40"/><rect x="263.16" y="123.63" width="4.40" height="4.40"/><rect x="263.16" y="123.77" width="4.40" height="4.40"/><rect x="263.53" y="123.82" width="4.40" height="4.40"/><rect x="264.28" y="123.78" width="4.40" height="4.40"/><rect x="264.89" y="125.41" width="4.40" height="4.40"/><rect x="265.08" y="124.25" width="4.40" height="4.40"/><rect x="265.53" y="125.25" width="4.40" height="4.40"/><rect x="265.66" y="122.18" width="4.40" height="4.40"/><rect x="265.99" y="125.89" width="4.40" height="4.40"/><rect x="266.77" y="125.34" width="4.40" height="4.40"/><rect x="266.96" y="122.90" width="4.40" height="4.40"/><rect x="267.40" y="125.52" width="4.40" height="4.40"/><rect x="267.86" y="123.53" width="4.40" height="4.40"/><rect x="268.33" y="124.80" width="4.40" height="4.40"/><rect x="268.43" y="126.09" width="4.40" height="4.40"/><rect x="268.77" y="125.91" width="4.40" height="4.40"/><rect x="268.97" y="125.00" width="4.40" height="4.40"/><rect x="269.82" y="125.67" width="4.40" height="4.40"/><rect x="270.03" y="126.18" width="4.40" height="4.40"/><rect x="270.30" y="125.76" width="4.40" height="4.40"/><rect x="270.48" y="126.89" width="4.40" height="4.40"/><rect x="271.32" y="131.02" width="4.40" height="4.40"/><rect x="272.12" y="134.27" width="4.40" height="4.40"/><rect x="272.16" y="134.95" width="4.40" height="4.40"/><rect x="272.24" y="137.91" width="4.40" height="4.40"/><rect x="272.17" y="140.77" width="4.40" height="4.40"/><rect x="272.33" y="142.32" width="4.40" height="4.40"/><rect x="272.49" y="144.34" width="4.40" height="4.40"/><rect x="272.73" y="147.88" width="4.40" height="4.40"/><rect x="272.75" y="150.35" width="4.40" height="4.40"/><rect x="272.57" y="153.21" width="4.40" height="4.40"/><rect x="273.06" y="154.99" width="4.40" height="4.40"/><rect x="273.41" y="158.25" width="4.40" height="4.40"/><rect x="273.43" y="160.68" width="4.40" height="4.40"/><rect x="273.37" y="163.26" width="4.40" height="4.40"/><rect x="273.37" y="165.26" width="4.40" height="4.40"/><rect x="274.32" y="168.63" width="4.40" height="4.40"/><rect x="274.05" y="169.92" width="4.40" height="4.40"/><rect x="274.13" y="171.68" width="4.40" height="4.40"/><rect x="274.62" y="175.29" width="4.40" height="4.40"/><rect x="274.77" y="177.04" width="4.40" height="4.40"/><rect x="275.18" y="179.93" width="4.40" height="4.40"/><rect x="275.26" y="183.04" width="4.40" height="4.40"/><rect x="275.52" y="185.29" width="4.40" height="4.40"/><rect x="275.77" y="186.91" width="4.40" height="4.40"/><rect x="276.10" y="190.22" width="4.40" height="4.40"/><rect x="276.32" y="192.10" width="4.40" height="4.40"/><rect x="276.49" y="195.54" width="4.40" height="4.40"/><rect x="276.41" y="199.12" width="4.40" height="4.40"/><rect x="277.17" y="201.41" width="4.40" height="4.40"/><rect x="277.48" y="203.75" width="4.40" height="4.40"/><rect x="278.33" y="206.39" width="4.40" height="4.40"/><rect x="278.81" y="207.03" width="4.40" height="4.40"/><rect x="279.33" y="207.47" width="4.40" height="4.40"/><rect x="279.49" y="208.46" width="4.40" height="4.40"/><rect x="280.12" y="208.92" width="4.40" height="4.40"/><rect x="280.36" y="209.30" width="4.40" height="4.40"/><rect x="280.57" y="209.39" width="4.40" height="4.40"/><rect x="281.10" y="209.82" width="4.40" height="4.40"/><rect x="281.26" y="210.21" width="4.40" height="4.40"/><rect x="281.81" y="210.21" width="4.40" height="4.40"/><rect x="282.59" y="210.49" width="4.40" height="4.40"/><rect x="282.94" y="210.54" width="4.40" height="4.40"/><rect x="283.10" y="210.74" width="4.40" height="4.40"/><rect x="283.50" y="211.10" width="4.40" height="4.40"/><rect x="283.97" y="211.11" width="4.40" height="4.40"/><rect x="284.27" y="211.03" width="4.40" height="4.40"/><rect x="284.59" y="210.83" width="4.40" height="4.40"/><rect x="285.17" y="211.24" width="4.40" height="4.40"/><rect x="285.73" y="211.03" width="4.40" height="4.40"/><rect x="285.66" y="211.45" width="4.40" height="4.40"/><rect x="286.41" y="211.25" width="4.40" height="4.40"/><rect x="286.56" y="211.22" width="4.40" height="4.40"/><rect x="287.07" y="211.56" width="4.40" height="4.40"/><rect x="287.57" y="211.63" width="4.40" height="4.40"/><rect x="287.79" y="211.59" width="4.40" height="4.40"/></g><polyline points="42.50,197.50 48.00,200.20 54.00,202.80 60.00,205.00 65.70,206.40 72.00,207.90 81.00,209.30 102.00,209.90 118.00,210.30 123.00,209.90 126.00,209.00 128.50,207.50 130.30,205.50 131.50,203.50 133.00,198.00 134.50,190.00 136.30,180.00 138.50,165.00 140.50,150.00 142.50,140.00 144.80,130.00 147.00,121.50 149.00,116.70 151.70,112.50 155.00,109.30 158.00,107.30 162.00,105.80 166.00,105.00 170.00,104.60 176.00,105.30 182.00,106.80 200.00,111.00 220.00,115.80 240.00,120.60 255.00,123.80 270.00,127.60 273.00,128.60 274.10,135.00 274.90,150.00 275.80,165.00 277.10,180.00 278.40,195.00 279.20,204.00 280.60,208.50 282.50,211.50 285.00,213.00 290.50,214.00" fill="none" stroke="#ff0000" stroke-width="1.3" stroke-linejoin="round" /><polyline points="42.50,198.50 48.00,199.30 54.00,200.40 60.00,201.90 65.00,203.00 70.00,203.80 75.00,204.50 78.00,206.00 80.00,208.00 82.00,210.00 86.00,212.30 100.00,212.70 130.00,212.80 150.00,212.60 155.00,212.20 158.00,211.20 160.00,209.60 161.80,207.50 163.50,204.00 165.00,197.00 166.20,190.00 167.40,180.00 168.60,168.00 170.20,154.00 171.70,140.00 172.70,127.00 173.60,115.00 174.80,107.00 175.90,100.00 176.40,92.00 177.00,84.00 178.50,76.00 180.50,70.50 183.00,67.10 186.00,69.50 189.50,72.50 192.00,73.70 200.00,76.60 210.00,80.00 215.00,81.40 221.00,83.40 227.70,85.50 234.00,88.70 239.10,91.60 243.00,94.60 248.70,101.10 253.50,107.10 258.00,112.50 264.00,119.60 270.00,125.50 272.00,127.50 271.70,135.00 272.40,150.00 273.20,165.00 274.50,180.00 276.00,195.00 278.00,203.00 279.40,208.50 281.50,211.70 284.00,213.20 289.50,214.00" fill="none" stroke="#0000ff" stroke-width="1.3" stroke-linejoin="round" /></g><path d="M41.75,28.5H311.0M42.25,28.5V216.0M310.5,28.5V216.0" stroke="#000" stroke-width="1" fill="none"/><path d="M41.75,216.0H311.0" stroke="#222" stroke-width="1.15" fill="none"/><g font-family='"Liberation Sans", sans-serif' font-size="9.8" fill="#000"><text x="74.30" y="22.9" text-anchor="middle">500</text><text x="149.00" y="22.9" text-anchor="middle">1000</text><text x="223.70" y="22.9" text-anchor="middle">1500</text><text x="298.40" y="22.9" text-anchor="middle">2000</text><text x="56.64" y="228" text-anchor="middle">200</text><text x="113.20" y="228" text-anchor="middle">400</text><text x="169.76" y="228" text-anchor="middle">600</text><text x="226.32" y="228" text-anchor="middle">800</text><text x="282.88" y="228" text-anchor="middle">1000</text><text x="37.8" y="219" text-anchor="end">0</text><text x="37.8" y="169" text-anchor="end">2000</text><text x="37.8" y="119" text-anchor="end">4000</text><text x="37.8" y="69" text-anchor="end">6000</text></g><g font-family='"Liberation Sans", sans-serif' font-size="11" fill="#000"><text x="181" y="9.6" text-anchor="middle" font-size="11.3">Energy (keV)</text><text x="183.4" y="250.6" text-anchor="middle" font-size="11.4">Channel</text><text transform="translate(9.9,117) rotate(-90)" text-anchor="middle" font-size="10.9">Relative Counts</text></g><g font-family='"Liberation Sans", sans-serif' fill="#0000ff"><text x="44.45" y="40.8" font-size="10.5" font-weight="bold" letter-spacing="0.5">UN/SiO</text><text x="82.70" y="45.5" font-size="7.35" font-weight="bold">2</text><text x="90.40" y="40.8" font-size="10.5" letter-spacing="0.45">(+25</text><text x="114.00" y="35.1" font-size="6.30">o</text><text x="117.10" y="40.8" font-size="10.5" letter-spacing="0.45">C)</text></g><circle cx="51.1" cy="51.1" r="2.6" fill="none" stroke="#f03030" stroke-width="1"/><rect x="48.6" y="66.1" width="5.0" height="4.2" fill="none" stroke="#2a2aff" stroke-width="1"/><g font-family='"Liberation Sans", sans-serif' font-size="11.3" fill="#000"><text x="66.9" y="54.4">as deposited</text><text x="67.3" y="71.6">irradiated 1.7x10</text><text x="152.6" y="65.7" font-size="8.3">16</text></g><clipPath id="cr"><rect x="373.7" y="29.5" width="255.59999999999997" height="186.8"/></clipPath><g clip-path="url(#cr)"><path d="M377.16,186.56L379.84,178.94M381.28,173.34L384.82,152.16M386.83,146.84L388.67,143.86M392.11,139.22L393.09,138.08M397.05,133.85L398.05,132.85M402.25,128.85L404.25,127.05M408.59,123.20L410.31,121.70M414.28,117.51L418.92,111.59M422.33,106.90L428.17,98.30M432.09,94.12L437.31,90.08M441.38,86.01L442.32,84.79M447.00,82.53L466.70,82.77M472.50,82.80L492.10,82.80M497.94,74.53L498.96,72.17M501.54,72.02L503.06,74.68M506.32,79.46L506.78,80.04M508.84,85.19L510.66,106.61M511.16,112.39L513.54,138.31M514.07,144.09L516.73,173.01M517.64,178.73L521.26,194.57M523.57,199.77L527.53,205.43M532.05,208.36L562.95,214.44M568.70,215.00L616.00,215.00" stroke="#f00000" stroke-width="1.1" fill="none"/><g fill="none" stroke="#ff0000" stroke-width="1.25"><circle cx="376.20" cy="189.30" r="2.90"/><circle cx="380.80" cy="176.20" r="2.90"/><circle cx="385.30" cy="149.30" r="2.90"/><circle cx="390.20" cy="141.40" r="2.90"/><circle cx="395.00" cy="135.90" r="2.90"/><circle cx="400.10" cy="130.80" r="2.90"/><circle cx="406.40" cy="125.10" r="2.90"/><circle cx="412.50" cy="119.80" r="2.90"/><circle cx="420.70" cy="109.30" r="2.90"/><circle cx="429.80" cy="95.90" r="2.90"/><circle cx="439.60" cy="88.30" r="2.90"/><circle cx="444.10" cy="82.50" r="2.90"/><circle cx="469.60" cy="82.80" r="2.90"/><circle cx="495.00" cy="82.80" r="2.90"/><circle cx="496.80" cy="77.20" r="2.90"/><circle cx="500.10" cy="69.50" r="2.90"/><circle cx="504.50" cy="77.20" r="2.90"/><circle cx="508.60" cy="82.30" r="2.90"/><circle cx="510.90" cy="109.50" r="2.90"/><circle cx="513.80" cy="141.20" r="2.90"/><circle cx="517.00" cy="175.90" r="2.90"/><circle cx="521.90" cy="197.40" r="2.90"/><circle cx="529.20" cy="207.80" r="2.90"/><circle cx="565.80" cy="215.00" r="2.90"/><circle cx="618.90" cy="215.00" r="2.90"/></g><polyline points="376.10,87.90 380.80,82.70 383.50,82.70 386.20,82.70 389.00,82.70 391.70,82.70 394.40,82.70 397.60,82.70 450.50,82.80 503.90,82.70 506.90,86.90 513.00,96.10 519.40,103.60 524.90,114.80 529.70,125.40 534.60,133.30 539.50,146.70 543.20,172.80 546.00,189.20 549.00,197.20 555.60,205.20 560.20,213.70 591.80,213.80" fill="none" stroke="#9030b8" stroke-width="1.7" stroke-linejoin="round" stroke-dasharray="4.7 4.8"/><g fill="#0000ff"><rect x="373.35" y="85.15" width="5.5" height="5.5"/><rect x="378.05" y="79.95" width="5.5" height="5.5"/><rect x="380.75" y="79.95" width="5.5" height="5.5"/><rect x="383.45" y="79.95" width="5.5" height="5.5"/><rect x="386.25" y="79.95" width="5.5" height="5.5"/><rect x="388.95" y="79.95" width="5.5" height="5.5"/><rect x="391.65" y="79.95" width="5.5" height="5.5"/><rect x="394.85" y="79.95" width="5.5" height="5.5"/><rect x="447.75" y="80.05" width="5.5" height="5.5"/><rect x="501.15" y="79.95" width="5.5" height="5.5"/><rect x="504.15" y="84.15" width="5.5" height="5.5"/><rect x="510.25" y="93.35" width="5.5" height="5.5"/><rect x="516.65" y="100.85" width="5.5" height="5.5"/><rect x="522.15" y="112.05" width="5.5" height="5.5"/><rect x="526.95" y="122.65" width="5.5" height="5.5"/><rect x="531.85" y="130.55" width="5.5" height="5.5"/><rect x="536.75" y="143.95" width="5.5" height="5.5"/><rect x="540.45" y="170.05" width="5.5" height="5.5"/><rect x="543.25" y="186.45" width="5.5" height="5.5"/><rect x="546.25" y="194.45" width="5.5" height="5.5"/><rect x="552.85" y="202.45" width="5.5" height="5.5"/><rect x="557.45" y="210.95" width="5.5" height="5.5"/><rect x="589.05" y="211.05" width="5.5" height="5.5"/></g></g><path d="M373.2,29.5H629.8M373.7,29.5V216.3M629.3,29.5V216.3M373.2,216.3H629.8" stroke="#000" stroke-width="1" fill="none"/><path d="M373.50,216.3v3.5 M373.50,29.5v3.5 M426.90,216.3v3.5 M426.90,29.5v3.5 M480.30,216.3v3.5 M480.30,29.5v3.5 M533.70,216.3v3.5 M533.70,29.5v3.5 M587.10,216.3v3.5 M587.10,29.5v3.5 M400.20,216.3v2 M400.20,29.5v2 M453.60,216.3v2 M453.60,29.5v2 M507.00,216.3v2 M507.00,29.5v2 M560.40,216.3v2 M560.40,29.5v2 M613.80,216.3v2 M613.80,29.5v2 M373.7,216.50h-4 M629.3,216.50h-4 M373.7,149.35h-4 M629.3,149.35h-4 M373.7,82.20h-4 M629.3,82.20h-4 M373.7,182.93h-2 M629.3,182.93h-2 M373.7,115.77h-2 M629.3,115.77h-2 M373.7,48.62h-2 M629.3,48.62h-2" stroke="#000" stroke-width="1" fill="none"/><g font-family='"Liberation Sans", sans-serif' font-size="9.6" fill="#000"><text x="367" y="219" text-anchor="end">0.00</text><text x="367" y="152" text-anchor="end">0.25</text><text x="367" y="85" text-anchor="end">0.50</text><text x="373.50" y="229.8" text-anchor="middle">0</text><text x="426.90" y="229.8" text-anchor="middle">250</text><text x="480.30" y="229.8" text-anchor="middle">500</text><text x="533.70" y="229.8" text-anchor="middle">750</text><text x="587.10" y="229.8" text-anchor="middle">1000</text></g><g font-family='"Liberation Sans", sans-serif' font-size="11" fill="#000"><text x="506" y="247.8" text-anchor="middle">estimated layer thickness (nm)</text><text transform="translate(344.1,128.2) rotate(-90)" text-anchor="middle" font-size="11.4">element concentration</text></g><g font-family='"Liberation Sans", sans-serif' fill="#0000ff"><text x="376.45" y="44.4" font-size="10.2" font-weight="bold" letter-spacing="0.5">UN/SiO</text><text x="412.90" y="48.6" font-size="7.75" font-weight="bold">2</text><text x="421.20" y="44.4" font-size="10.2" letter-spacing="0.4">(+25</text><text x="443.60" y="39.0" font-size="6.94">o</text><text x="447.40" y="44.4" font-size="10.2" letter-spacing="0.4">C)</text></g><path d="M514,38.9H522.1M527.9,38.9H536" stroke="#ff0000" stroke-width="1.1"/><circle cx="525" cy="38.9" r="2.9" fill="none" stroke="#ff0000" stroke-width="1.25"/><path d="M514,52H518.8M532.4,52H536" stroke="#9030b8" stroke-width="1.7"/><rect x="522.5" y="49.3" width="5.5" height="5.5" fill="#0000ff"/><g font-family='"Liberation Sans", sans-serif' font-size="9.4" fill="#000"><text x="537.8" y="42.1">U; deposited</text><text x="537.8" y="55.4">U; irradiated 1.7x10</text><text x="620.7" y="50.6" font-size="6.8">16</text></g></svg></body></html>
